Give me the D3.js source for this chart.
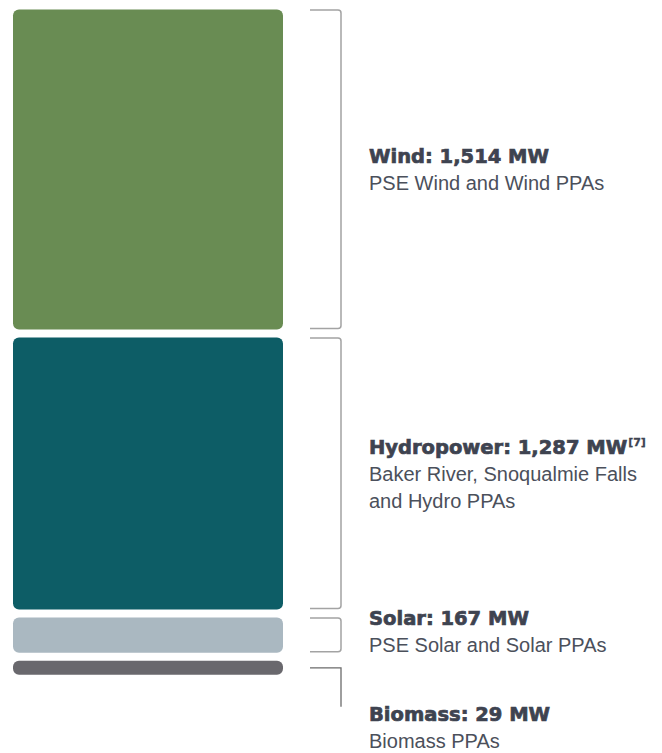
<!DOCTYPE html>
<html>
<head>
<meta charset="utf-8">
<script src="https://cdn.jsdelivr.net/npm/d3@7"></script>
<style>
  body { margin: 0; background: #fff; }
</style>
</head>
<body>
<div id="chart"></div>
<script>
const sources = ["Wind", "Hydropower", "Solar", "Biomass"];
const capacityMW = [1514, 1287, 167, 29];
const notes = ["", "[7]", "", ""];
const descriptions = [
    ["PSE Wind and Wind PPAs"],
    ["Baker River, Snoqualmie Falls", "and Hydro PPAs"],
    ["PSE Solar and Solar PPAs"],
    ["Biomass PPAs"]
];
const colors = ["#698c53", "#0d5d66", "#aab8c1", "#69686d"];

const WIDTH = 662, HEIGHT = 753;
const GAP = 8, MIN_H = 14;

const svg = d3.select("#chart")
    .append("svg")
    .attr("width", WIDTH)
    .attr("height", HEIGHT);

const hScale = d3.scaleLinear()
    .domain([0, d3.max(capacityMW)])
    .range([0, 320]);

const x = d3.scaleLinear().domain([0, 1]).range([13, 283]);

// stack blocks top to bottom
let yPos = 9.5;
const data = sources.map((s, i) => {
    const h = Math.max(hScale(capacityMW[i]), MIN_H);
    const d = { name: s, mw: capacityMW[i], note: notes[i], desc: descriptions[i], color: colors[i], y0: yPos, h: h };
    yPos += h + GAP;
    return d;
});

svg.selectAll("rect.block")
    .data(data)
    .enter()
    .append("rect")
    .attr("class", "block")
    .attr("x", x(0))
    .attr("width", x(1) - x(0))
    .attr("y", d => d.y0)
    .attr("height", d => d.h)
    .attr("rx", d => Math.min(6, d.h / 2))
    .attr("fill", d => d.color);

// brackets
const bx0 = 310, bx1 = 341, r = 3;
const fmt = d3.format(",");
const LINE = 27;

data.forEach((d, i) => {
    const last = i === data.length - 1;
    let textTop;
    if (!last) {
        const t = d.y0 + 0.5, b = d.y0 + d.h - 1;
        svg.append("path")
            .attr("d", `M${bx0},${t} H${bx1 - r} Q${bx1},${t} ${bx1},${t + r} V${b - r} Q${bx1},${b} ${bx1 - r},${b} H${bx0}`)
            .attr("fill", "none")
            .attr("stroke", "#a3a3a3")
            .attr("stroke-width", 1.5);
        const mid = (t + b) / 2;
        textTop = mid - (d.desc.length) * LINE / 2 - 6.5 + 14;
        if (d.h < 60) textTop -= 4;
    } else {
        const c = d.y0 + d.h / 2;
        svg.append("path")
            .attr("d", `M${bx0},${c} H${bx1} V${c + 39}`)
            .attr("fill", "none")
            .attr("stroke", "#6b6b6b")
            .attr("stroke-width", 1.3);
        textTop = c + 53;
    }

    const label = svg.append("text")
        .attr("x", 369)
        .attr("y", textTop)
        .attr("font-family", "DejaVu Sans")
        .attr("font-weight", "bold")
        .attr("font-size", "19.5px")
        .attr("fill", "#3e4350")
        .attr("stroke", "#3e4350")
        .attr("stroke-width", 0.7)
        .text(`${d.name}: ${fmt(d.mw)} MW`);
    if (d.note) {
        label.append("tspan")
            .attr("font-size", "11px")
            .attr("stroke-width", 0.3)
            .attr("dy", -8)
            .attr("dx", 1)
            .text(d.note);
    }

    svg.selectAll(null)
        .data(d.desc)
        .enter()
        .append("text")
        .attr("x", 369)
        .attr("y", (t, j) => textTop + LINE * (j + 1))
        .attr("font-family", "Liberation Sans, Arial, sans-serif")
        .attr("font-size", "20px")
        .attr("fill", "#4b505b")
        .text(t => t);
});
</script>
</body>
</html>
